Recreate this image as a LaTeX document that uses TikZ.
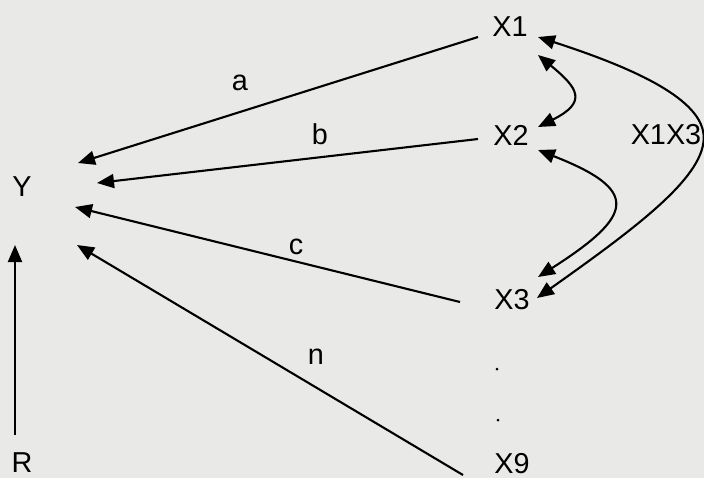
\documentclass[tikz,border=0pt]{standalone}
\usepackage{fontspec}
\setmainfont{Liberation Sans}
\usepackage{tikz}
\usetikzlibrary{arrows.meta}
\definecolor{paper}{RGB}{233,233,231}

\begin{document}
\begin{tikzpicture}[
    x=0.5pt, y=-0.5pt,
    var/.style={font=\fontsize{14.4}{17}\selectfont, inner sep=1pt},
    coef/.style={font=\fontsize{14.4}{17}\selectfont, inner sep=0pt},
    elide/.style={circle, fill=black, inner sep=0pt, minimum size=1.5pt},
    arr/.style={-{Triangle[length=8.5pt, width=7pt]}, line width=1.05pt},
    dbl/.style={{Triangle[length=8.5pt, width=7pt]}-{Triangle[length=8.5pt, width=7pt]},
                line width=1.05pt},
]
    \fill[paper] (0,0) rectangle (704,478);
    \useasboundingbox (0,0) rectangle (704,478);

    \node[var] (X1) at (510,27) {X1};
    \node[var] (X2) at (511,135) {X2};
    \node[var] (X3) at (512,300) {X3};
    \node[var] (X9) at (512,464) {X9};
    \node[var] (X1X3) at (666,135) {X1X3};
    \node[var] (Y) at (22,187) {Y};
    \node[var] (R) at (22,463) {R};
    \node[elide] (d1) at (497,369) {};
    \node[elide] (d2) at (498,420) {};

    % paths into Y
    \draw[arr] ([shift={(-32,10)}]X1.center) -- node[coef, pos=0.595, yshift=14.5pt] (la) {a}
        ([shift={(56,-24)}]Y.center);
    \draw[arr] ([shift={(-33,4)}]X2.center) -- node[coef, pos=0.415, yshift=11.5pt] (lb) {b}
        ([shift={(75,-4)}]Y.center);
    \draw[arr] ([shift={(-52,2)}]X3.center) -- node[coef, pos=0.426, yshift=7.3pt] (lc) {c}
        ([shift={(53,20)}]Y.center);
    \draw[arr] ([shift={(-49,11)}]X9.center) -- node[coef, pos=0.381, yshift=15.5pt] (ln) {n}
        ([shift={(55,58)}]Y.center);
    \draw[arr] ([shift={(-7,-28)}]R.center) -- ([shift={(-7,58)}]Y.center);

    % correlations
    \draw[dbl] ([shift={(28,28)}]X1.center) .. controls +(40,33) and +(50,-25) ..
        ([shift={(27,-8)}]X2.center);
    \draw[dbl] ([shift={(27,15)}]X2.center) .. controls +(102,40) and +(97,-62) ..
        ([shift={(26,-23)}]X3.center);
    \draw[dbl] ([shift={(28,10)}]X1.center) .. controls +(102,33) and +(-3,-35) ..
        (X1X3.east) .. controls +(3,40) and +(103,-73) .. ([shift={(25,-2)}]X3.center);
\end{tikzpicture}
\end{document}
